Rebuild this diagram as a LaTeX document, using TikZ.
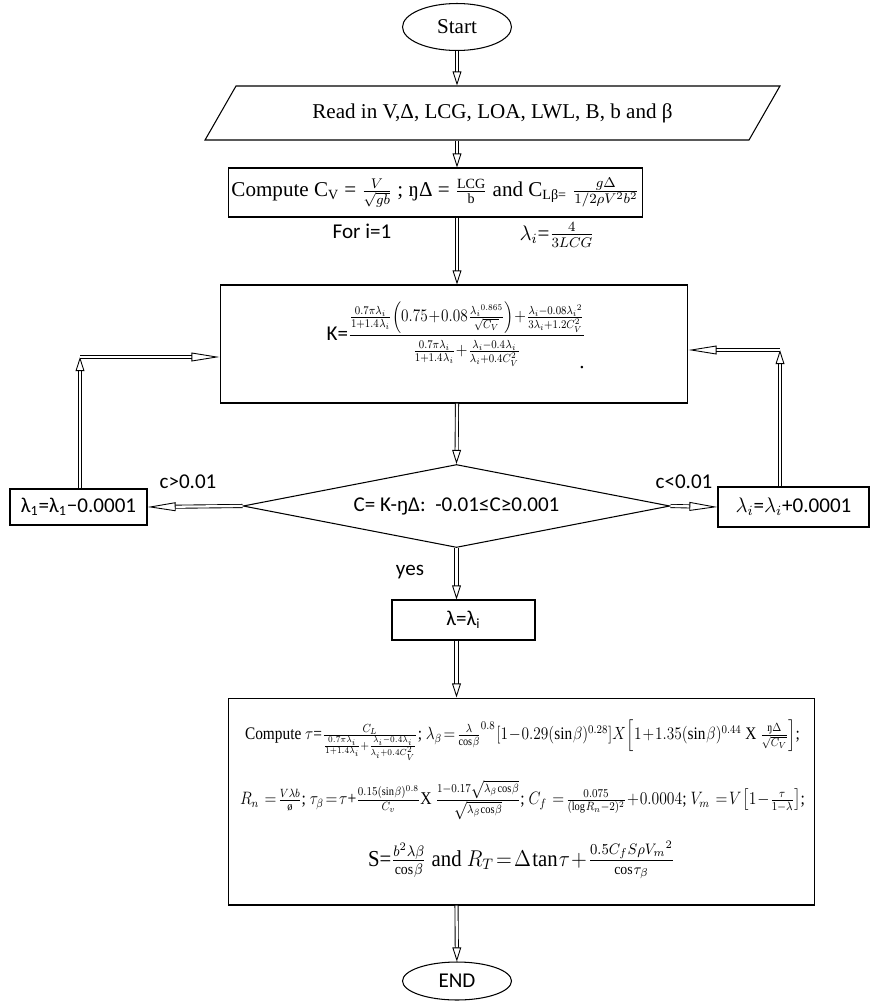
\documentclass[tikz,border=0pt]{standalone}
\usepackage{fontspec}
\usepackage{amsmath}
\setmainfont{Liberation Serif}
\newfontfamily\calib{Carlito}
\usetikzlibrary{shapes.geometric}
\usetikzlibrary{arrows.meta}
\newcommand{\tightmath}{\medmuskip=1mu\thickmuskip=2mu\thinmuskip=1mu}

\begin{document}
\begin{tikzpicture}[x=0.02cm, y=-0.02cm, font=\fontsize{12}{14}\selectfont,
  box/.style={draw, rectangle, line width=0.6pt, inner sep=0pt},
  term/.style={draw, ellipse, line width=0.6pt, inner sep=0pt, minimum width=2.18cm},
  flow/.style={draw, double, double distance=1.3pt, line width=0.5pt, -{Triangle[open, length=8pt, width=5pt]}},
  sideflow/.style={flow, -{Triangle[open, length=16pt, width=5pt]}},
  lbl/.style={font=\calib\fontsize{12}{14}\selectfont}]
  \useasboundingbox (0,0) rectangle (870,1001);

  \node[term, minimum height=0.94cm] (start) at (457,27) {Start};

  \node[draw, trapezium, line width=0.6pt, trapezium left angle=32, trapezium right angle=148,
        trapezium stretches body, minimum width=11.5cm, minimum height=1.08cm, inner sep=0pt]
        (read) at (492.5,113) {Read in V,Δ, LCG, LOA, LWL, B, b and β};

  \node[box, minimum width=8.3cm, minimum height=0.98cm] (cv) at (435.5,192.5)
    {Compute C\textsubscript{V} = $\frac{V}{\sqrt{gb}}$ ; ŋΔ = $\frac{\mathrm{LCG}}{\mathrm{b}}$ and C\textsubscript{Lβ=} $\frac{g\Delta}{1/2\rho V^2 b^2}$};

  \node[lbl] (fori) at (362,231) {For i=1};
  \node (lamzero) at (557,235) {$\lambda_i$=$\frac{4}{3LCG}$};

  \node[box, minimum width=9.36cm, minimum height=2.36cm] (kbox) at (454,344) {};
  \node (kform) at (456,334)
    {{\calib K=}\resizebox{4.75cm}{!}{\scalebox{1}[1.15]{\tightmath$\dfrac{\frac{0.7\pi\lambda_i}{1+1.4\,\lambda_i}\left(0.75+0.08\,\frac{{\lambda_i}^{0.865}}{\sqrt{C_V}}\right)+\frac{\lambda_i-0.08\lambda_i{}^2}{3\lambda_i+1.2C_V^2}\rule[-3pt]{0pt}{3pt}}{\rule{0pt}{12pt}\frac{0.7\pi\lambda_i}{1+1.4\,\lambda_i}+\frac{\lambda_i-0.4\,\lambda_i}{\lambda_i+0.4C_V^2}}$}}};
  \node[inner sep=0pt] (kdot) at (582,368) {.};

  \node[draw, diamond, line width=0.6pt, inner sep=0pt, minimum width=8.54cm, minimum height=1.66cm, aspect=5.1]
    (test) at (456.5,506) {\calib C= K-ŋΔ:\ \ -0.01≤C≥0.001};

  \node[box, minimum width=2.74cm, minimum height=0.72cm, lbl] (dec) at (78.5,507)
    {λ\textsubscript{1}=λ\textsubscript{1}−0.0001};
  \node[box, minimum width=3.02cm, minimum height=0.8cm, lbl] (inc) at (793.5,507)
    {$\lambda_i$=$\lambda_i$+0.0001};

  \node[lbl] (cgt) at (188,482) {c>0.01};
  \node[lbl] (clt) at (684,482) {c<0.01};
  \node[lbl] (yes) at (410,572) {yes};

  \node[box, minimum width=2.86cm, minimum height=0.8cm, lbl] (lam) at (463.5,620) {λ=λ\textsubscript{i}};

  \node[box, minimum width=11.74cm, minimum height=4.14cm] (res) at (521.5,801.5) {};
  \node (resa) at (522.5,740) {\resizebox{11.1cm}{!}{\scalebox{1}[1.15]{\tightmath Compute $\tau$=$\frac{C_L}{\frac{0.7\pi\lambda_i}{1+1.4\lambda_i}+\frac{\lambda_i-0.4\lambda_i}{\lambda_i+0.4C_V^2}}$; $\lambda_\beta=\frac{\lambda}{\cos\beta}^{0.8}\,[1-0.29(\sin\beta)^{0.28}]X\left[1+1.35(\sin\beta)^{0.44}\ \mathrm{X}\ \frac{\text{ŋ}\Delta}{\sqrt{C_V}}\right]$;}}};
  \node (resb) at (522.5,800) {\resizebox{11.3cm}{!}{\scalebox{1}[1.15]{\tightmath $R_n\ =\frac{V\lambda b}{\text{ø}}$; $\tau_\beta=\tau$+$\frac{0.15(\sin\beta)^{0.8}}{C_v}$X $\frac{1-0.17\sqrt{\lambda_\beta\cos\beta}}{\sqrt{\lambda_\beta\cos\beta}}$; $C_f\ =\frac{0.075}{(\log R_n-2)^2}+0.0004$; $V_m\ =V\left[1-\frac{\tau}{1-\lambda}\right]$;}}};
  \node (resc) at (521.5,860) {\resizebox{6.14cm}{!}{\scalebox{1}[1.1]{\tightmath S=$\frac{b^2\lambda\beta}{\cos\beta}$ and $R_T=\Delta\tan\tau+\frac{0.5C_fS\rho {V_m}^2}{\cos\tau_\beta}$}}};

  \node[term, minimum height=0.76cm, lbl] (stop) at (457,981) {END};

  \coordinate (lc) at (80,357);
  \coordinate (rc) at (780,350);

  \draw[flow] (start) -- (start.south |- read.north);
  \draw[flow] (start.south |- read.south) -- (start.south |- cv.north);
  \draw[flow] (start.south |- cv.south) -- (start.south |- kbox.north);
  \draw[flow] (start.south |- kbox.south) -- (test.north);
  \draw[sideflow] (test.west) -- (dec.east);
  \draw[sideflow] (test.east) -- (inc.west);
  \draw[flow] (lc |- dec.north) -- (lc);
  \draw[sideflow] (lc) -- (lc -| kbox.west);
  \draw[flow] (rc |- inc.north) -- (rc);
  \draw[sideflow] (rc) -- (rc -| kbox.east);
  \draw[flow] (test.south) -- (test.south |- lam.north);
  \draw[flow] (test.south |- lam.south) -- (test.south |- res.north);
  \draw[flow] (test.south |- res.south) -- (stop);
\end{tikzpicture}
\end{document}
